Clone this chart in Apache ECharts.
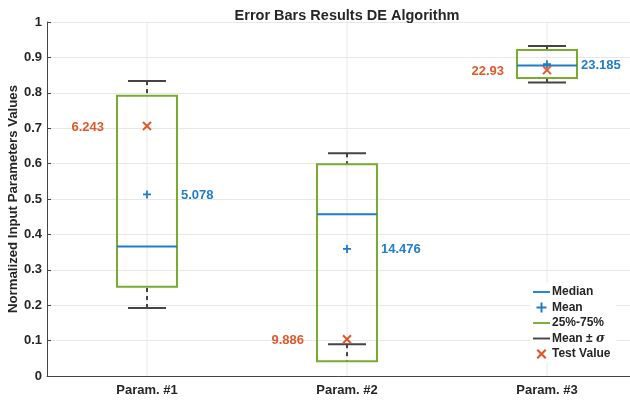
<!DOCTYPE html>
<html><head><meta charset="utf-8">
<script src="https://cdn.jsdelivr.net/npm/echarts@6/dist/echarts.min.js"></script>
<style>html,body{margin:0;padding:0;background:#fff}#c{width:630px;height:401px}</style>
</head><body><div id="c"></div>
<script>
const categories = ['Param. #1', 'Param. #2', 'Param. #3'];
const q1 = [0.252, 0.042, 0.842];
const q3 = [0.792, 0.598, 0.921];
const medianVals = [0.366, 0.457, 0.877];
const meanVals = [0.513, 0.359, 0.881];
const sdLow = [0.192, 0.090, 0.829];
const sdHigh = [0.833, 0.629, 0.932];
const testVals = [0.706, 0.104, 0.864];
const meanLabels = ['5.078', '14.476', '23.185'];
const testLabels = ['6.243', '9.886', '22.93'];

const BLUE = '#1f7dcc', ORANGE = '#e0592a', GREEN = '#77ac30', GRAY = '#444444';
const FONT = 'bold 13px "Liberation Sans", Arial, sans-serif';

const chart = echarts.init(document.getElementById('c'), null, {renderer: 'canvas'});
const idx = categories.map((c, i) => i);

function bw(api) { return api.size([1, 0])[0]; }

const option = {
  animation: false,
  title: {
    text: 'Error Bars Results DE Algorithm',
    left: 342, top: 3, textAlign: 'center',
    textStyle: {fontFamily: 'Liberation Sans', fontWeight: 'bold', fontSize: 14.5, color: '#262626'}
  },
  grid: {left: 47, top: 22, width: 600, height: 354, containLabel: false, outerBoundsMode: 'none'},
  legend: {
    orient: 'vertical', left: 530, top: 283,
    itemWidth: 17, itemHeight: 10, itemGap: 3.5,
    backgroundColor: '#ffffff', padding: [3, 6, 3, 3],
    textStyle: {fontFamily: 'Liberation Sans', fontWeight: 'bold', fontSize: 12, color: '#262626', lineHeight: 12,
      padding: [0, 0, 0, -3],
      rich: {i: {fontStyle: 'italic', fontFamily: 'DejaVu Serif', fontSize: 12, color: '#262626'}}},
    formatter: n => n === 'Mean ± σ' ? 'Mean ± {i|σ}' : n,
    data: [
      {name: 'Median', icon: 'path://M0,0H18V2H0Z'},
      {name: 'Mean', icon: 'path://M4,0H6V4H10V6H6V10H4V6H0V4H4Z'},
      {name: '25%-75%', icon: 'path://M0,0H18V2H0Z'},
      {name: 'Mean ± σ', icon: 'path://M0,0H18V2H0Z'},
      {name: 'Test Value', icon: 'path://M0,1.6L1.6,0L5,3.4L8.4,0L10,1.6L6.6,5L10,8.4L8.4,10L5,6.6L1.6,10L0,8.4L3.4,5Z'}
    ]
  },
  xAxis: {
    type: 'category', data: categories, boundaryGap: true,
    axisLine: {lineStyle: {color: GRAY, width: 1}},
    axisTick: {inside: true, alignWithLabel: true, length: 5, lineStyle: {color: GRAY}},
    axisLabel: {margin: 8, fontFamily: 'Liberation Sans', fontWeight: 'bold', fontSize: 13, color: '#262626'},
    splitLine: {show: false}
  },
  yAxis: {
    type: 'value', min: 0, max: 1, interval: 0.1,
    name: 'Normalized Input Parameters Values', nameLocation: 'middle', nameGap: 27, nameMoveOverlap: false,
    nameTextStyle: {fontFamily: 'Liberation Sans', fontWeight: 'bold', fontSize: 13.2, color: '#262626'},
    axisLine: {show: true, lineStyle: {color: GRAY, width: 1}},
    axisTick: {show: true, inside: true, length: 4, lineStyle: {color: GRAY}},
    axisLabel: {margin: 5, fontFamily: 'Liberation Sans', fontWeight: 'bold', fontSize: 13, color: '#262626'},
    splitLine: {lineStyle: {color: '#e8e8e8', width: 1}}
  },
  series: [
    {
      type: 'custom', name: 'vgrid', silent: true, z: 1,
      data: idx.map(i => [i, 0, 1]),
      encode: {x: 0, y: [1, 2]},
      renderItem: (params, api) => {
        const a = api.coord([api.value(0), 1]);
        const b = api.coord([api.value(0), 0]);
        return {type: 'line', shape: {x1: a[0], y1: a[1], x2: b[0], y2: b[1]}, style: {stroke: '#e8e8e8', lineWidth: 1}};
      }
    },
    {
      type: 'custom', name: 'Mean ± σ', z: 3, itemStyle: {color: GRAY},
      data: idx.map(i => [i, sdLow[i], sdHigh[i], q1[i], q3[i]]),
      encode: {x: 0, y: [1, 2]},
      renderItem: (params, api) => {
        const x = api.value(0), w = bw(api) * 0.19;
        const lo = api.coord([x, api.value(1)]), hi = api.coord([x, api.value(2)]);
        const b1 = api.coord([x, api.value(3)]), b3 = api.coord([x, api.value(4)]);
        const st = {stroke: GRAY, lineWidth: 2};
        const ds = {stroke: GRAY, lineWidth: 2, lineDash: [4, 4]};
        return {type: 'group', children: [
          {type: 'line', shape: {x1: lo[0] - w / 2, y1: lo[1], x2: lo[0] + w / 2, y2: lo[1]}, style: st},
          {type: 'line', shape: {x1: hi[0] - w / 2, y1: hi[1], x2: hi[0] + w / 2, y2: hi[1]}, style: st},
          {type: 'line', shape: {x1: lo[0], y1: lo[1], x2: b1[0], y2: b1[1]}, style: ds},
          {type: 'line', shape: {x1: hi[0], y1: hi[1], x2: b3[0], y2: b3[1]}, style: ds}
        ]};
      }
    },
    {
      type: 'custom', name: '25%-75%', z: 4, itemStyle: {color: GREEN},
      data: idx.map(i => [i, q1[i], q3[i]]),
      encode: {x: 0, y: [1, 2]},
      renderItem: (params, api) => {
        const x = api.value(0), w = bw(api) * 0.3;
        const a = api.coord([x, api.value(2)]), b = api.coord([x, api.value(1)]);
        return {type: 'rect', shape: {x: a[0] - w / 2, y: a[1], width: w, height: b[1] - a[1]},
          style: {fill: 'none', stroke: GREEN, lineWidth: 2}};
      }
    },
    {
      type: 'custom', name: 'Median', z: 5, itemStyle: {color: BLUE},
      data: idx.map(i => [i, medianVals[i]]),
      encode: {x: 0, y: 1},
      renderItem: (params, api) => {
        const x = api.value(0), w = bw(api) * 0.3;
        const p = api.coord([x, api.value(1)]);
        return {type: 'line', shape: {x1: p[0] - w / 2, y1: p[1], x2: p[0] + w / 2, y2: p[1]}, style: {stroke: BLUE, lineWidth: 2}};
      }
    },
    {
      type: 'custom', name: 'Mean', z: 6, itemStyle: {color: BLUE},
      data: idx.map(i => [i, meanVals[i], meanLabels[i]]),
      encode: {x: 0, y: 1},
      renderItem: (params, api) => {
        const x = api.value(0);
        const p = api.coord([x, api.value(1)]);
        const s = 4;
        const st = {stroke: BLUE, lineWidth: 1.8};
        return {type: 'group', children: [
          {type: 'line', shape: {x1: p[0] - s, y1: p[1], x2: p[0] + s, y2: p[1]}, style: st},
          {type: 'line', shape: {x1: p[0], y1: p[1] - s, x2: p[0], y2: p[1] + s}, style: st},
          {type: 'text', x: p[0] + 34, y: p[1] + 1, style: {text: meanLabels[params.dataIndex], fill: BLUE, font: FONT,
            align: 'left', verticalAlign: 'middle', textAlign: 'left', textVerticalAlign: 'middle'}}
        ]};
      }
    },
    {
      type: 'custom', name: 'Test Value', z: 7, itemStyle: {color: ORANGE},
      data: idx.map(i => [i, testVals[i], testLabels[i]]),
      encode: {x: 0, y: 1},
      renderItem: (params, api) => {
        const x = api.value(0);
        const p = api.coord([x, api.value(1)]);
        const s = 4;
        const st = {stroke: ORANGE, lineWidth: 2};
        return {type: 'group', children: [
          {type: 'line', shape: {x1: p[0] - s, y1: p[1] - s, x2: p[0] + s, y2: p[1] + s}, style: st},
          {type: 'line', shape: {x1: p[0] - s, y1: p[1] + s, x2: p[0] + s, y2: p[1] - s}, style: st},
          {type: 'text', x: p[0] - 43, y: p[1] + 1, style: {text: testLabels[params.dataIndex], fill: ORANGE, font: FONT,
            align: 'right', verticalAlign: 'middle', textAlign: 'right', textVerticalAlign: 'middle'}}
        ]};
      }
    }
  ]
};
chart.setOption(option);
</script>
</body></html>
